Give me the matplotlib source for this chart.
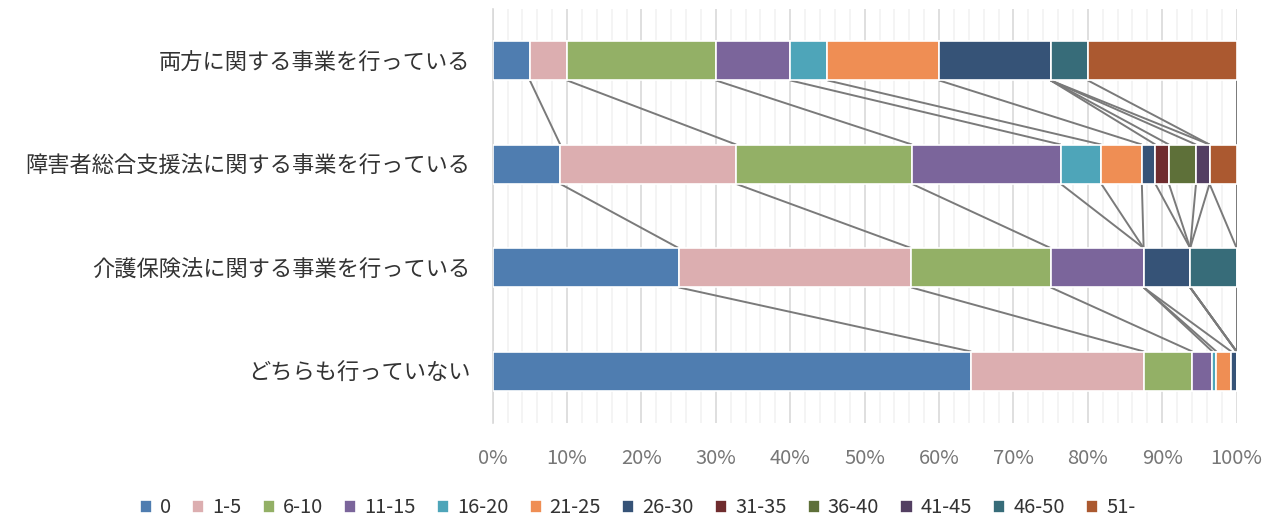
import numpy as np
import matplotlib.pyplot as plt
from matplotlib.ticker import MultipleLocator, FuncFormatter

plt.rcParams['font.family'] = ['Noto Sans CJK JP', 'DejaVu Sans']

# categories, top to bottom
categories = ['両方に関する事業を行っている',
              '障害者総合支援法に関する事業を行っている',
              '介護保険法に関する事業を行っている',
              'どちらも行っていない']

series_names = ['0', '1-5', '6-10', '11-15', '16-20', '21-25',
                '26-30', '31-35', '36-40', '41-45', '46-50', '51-']

# share (%) per category, one list per series
s_0     = [5.0, 9.09, 25.0, 64.32]
s_1_5   = [5.0, 23.64, 31.25, 23.24]
s_6_10  = [20.0, 23.64, 18.75, 6.49]
s_11_15 = [10.0, 20.0, 12.5, 2.70]
s_16_20 = [5.0, 5.45, 0.0, 0.54]
s_21_25 = [15.0, 5.45, 0.0, 2.0]
s_26_30 = [15.0, 1.82, 6.25, 0.71]
s_31_35 = [0.0, 1.82, 0.0, 0.0]
s_36_40 = [0.0, 3.64, 0.0, 0.0]
s_41_45 = [0.0, 1.82, 0.0, 0.0]
s_46_50 = [5.0, 0.0, 6.25, 0.0]
s_51    = [20.0, 3.64, 0.0, 0.0]

series = [s_0, s_1_5, s_6_10, s_11_15, s_16_20, s_21_25,
          s_26_30, s_31_35, s_36_40, s_41_45, s_46_50, s_51]

colors = ['#4f7db0', '#dcaeb0', '#93b066', '#7b659b', '#4ea5b9', '#ef8e54',
          '#365377', '#6f2c2e', '#5e7039', '#533f62', '#376c79', '#ab5930']

fig = plt.figure(figsize=(12.75, 5.22), dpi=100)
ax = fig.add_axes([0.3864, 0.1897, 0.5835, 0.7931])

data = np.array(series, dtype=float)
data = data / data.sum(axis=0) * 100
ypos = np.arange(len(categories))[::-1]  # top category at the top
h = 0.38

left = np.zeros(len(categories))
handles = []
for vals, name, col in zip(data, series_names, colors):
    b = ax.barh(ypos, vals, left=left, height=h, color=col,
                edgecolor='white', linewidth=1.2, label=name, zorder=3)
    handles.append(b)
    left = left + vals

# series lines between neighbouring bars
cum = np.cumsum(data, axis=0)
for row in cum:
    for i in range(len(categories) - 1):
        ax.plot([row[i], row[i + 1]], [ypos[i] - h / 2, ypos[i + 1] + h / 2],
                color='#7a7a7a', lw=1.4, zorder=2, solid_capstyle='butt')

ax.set_xlim(0, 100)
ax.set_ylim(-0.5, 3.5)
ax.xaxis.set_major_locator(MultipleLocator(10))
ax.xaxis.set_minor_locator(MultipleLocator(2))
ax.xaxis.set_major_formatter(FuncFormatter(lambda v, p: f'{v:.0f}%'))
ax.grid(axis='x', which='major', color='#d9d9d9', lw=1.2, zorder=0)
ax.grid(axis='x', which='minor', color='#f2f2f2', lw=1.2, zorder=0)
ax.set_axisbelow(True)

ax.set_yticks(ypos)
ax.set_yticklabels(categories, fontsize=16, color='#333333')
ax.tick_params(axis='y', length=0, pad=16)
ax.tick_params(axis='x', which='both', length=0, pad=18, labelsize=14.5,
               labelcolor='#767676')

for s in ['top', 'right', 'bottom']:
    ax.spines[s].set_visible(False)
ax.spines['left'].set_color('#d9d9d9')
ax.spines['left'].set_linewidth(1.2)

fig.legend(handles=handles, labels=series_names, loc='center',
           bbox_to_anchor=(0.5, 0.027), ncol=12, frameon=False,
           fontsize=14.5, handlelength=0.6, handleheight=0.6,
           handletextpad=0.4, columnspacing=1.05, labelcolor='#333333')

fig.savefig('out.png', dpi=100)
